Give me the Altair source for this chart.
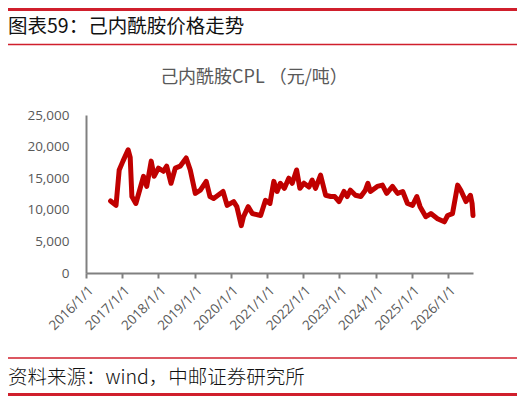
import altair as alt
import pandas as pd

dates = ["2016-09-05","2016-10-30","2016-12-01","2017-01-08","2017-03-01","2017-03-22","2017-04-08","2017-05-18",
         "2017-06-25","2017-08-03","2017-09-05","2017-10-20","2017-11-18","2018-01-01","2018-02-20","2018-03-25",
         "2018-05-08","2018-06-20","2018-08-08","2018-10-08","2018-11-18","2019-01-08","2019-02-28","2019-04-28",
         "2019-06-05","2019-07-12","2019-10-15","2019-11-25","2020-01-30","2020-03-02","2020-04-16","2020-05-08",
         "2020-06-25","2020-08-05","2020-10-28","2020-12-16","2021-01-30","2021-03-10","2021-04-12","2021-05-15",
         "2021-06-25","2021-08-08","2021-09-12","2021-10-26","2021-11-28","2022-01-08","2022-02-28","2022-04-01",
         "2022-05-05","2022-06-25","2022-08-15","2022-10-05","2022-11-15","2022-12-28","2023-02-17","2023-03-20",
         "2023-04-22","2023-06-12","2023-08-05","2023-09-20","2023-10-15","2023-11-10","2024-01-18","2024-03-10",
         "2024-04-22","2024-06-20","2024-08-10","2024-10-01","2024-11-18","2025-01-08","2025-02-20","2025-03-25",
         "2025-05-22","2025-07-12","2025-09-17","2025-11-25","2025-12-28","2026-02-15","2026-04-08","2026-05-10",
         "2026-07-01","2026-08-15","2026-09-01","2026-09-10"]
prices = [11400,10700,16300,17700,19500,18300,12100,11000,
          13100,15300,13700,17700,15300,16600,16100,16900,
          14200,16600,16900,18200,16300,12600,13100,14500,
          12100,11800,12900,10700,11300,10500,7500,8900,
          10500,9400,9100,11500,11000,14500,12900,14200,
          13400,15000,14200,16300,13400,14200,13600,14700,
          13400,15500,12300,12100,12100,11300,12900,12100,
          13100,12300,12100,13100,14200,12900,13700,13900,
          12600,13700,12600,12900,11000,10700,12100,10500,
          8900,9400,8600,8100,9100,9400,13900,13100,
          11300,12300,11000,9100]

tick_dates = ["2016-01-01","2017-01-01","2018-01-01","2019-01-01","2020-01-01","2021-01-01",
              "2022-01-01","2023-01-01","2024-01-01","2025-01-01","2026-01-01"]
y_ticks = [0, 5000, 10000, 15000, 20000, 25000]

fig_title = "图表59：己内酰胺价格走势"
chart_title = "己内酰胺CPL （元/吨）"
source = "资料来源：wind，中邮证券研究所"

df = pd.DataFrame({"date": pd.to_datetime(dates), "price": prices})

W, H = 387, 158
RED = "#D01F2C"
GREY = "#595959"
AX = "#808080"

x_enc = alt.X("date:T",
              scale=alt.Scale(domain=["2016-01-01", "2026-09-10"]),
              axis=alt.Axis(values=tick_dates, format="%Y/%-m/%-d", labelAngle=-45,
                            labelAlign="right", labelBaseline="top",
                            labelColor=GREY, labelFontSize=13.5, labelFont="Open Sans",
                            labelPadding=5, tickSize=5, tickColor=AX, tickWidth=2,
                            domainColor=AX, domainWidth=2, grid=False, title=None,
                            labelOverlap=False))
y_enc = alt.Y("price:Q",
              scale=alt.Scale(domain=[0, 25000]),
              axis=alt.Axis(values=y_ticks, format=",.0f", ticks=False, labelPadding=17,
                            labelColor=GREY, labelFontSize=13.5, labelFont="Open Sans",
                            domainColor=AX, domainWidth=2, grid=False, title=None))

line = alt.Chart(df).mark_line(color="#C00000", strokeWidth=5, strokeJoin="round",
                               strokeCap="round").encode(x=x_enc, y=y_enc)

txt = pd.DataFrame({"t": [fig_title]})
title_mark = alt.Chart(txt).mark_text(align="left", baseline="middle", fontSize=19.5,
                                      font="Noto Sans CJK SC", color="#111111").encode(
    x=alt.value(-78), y=alt.value(-88), text="t:N")

ct = pd.DataFrame({"t": [chart_title]})
ctitle_mark = alt.Chart(ct).mark_text(align="center", baseline="middle", fontSize=18,
                                      font="Noto Sans CJK SC", color=GREY).encode(
    x=alt.value(168), y=alt.value(-37), text="t:N")

st = pd.DataFrame({"t": [source]})
source_mark = alt.Chart(st).mark_text(align="left", baseline="middle", fontSize=19.5,
                                      font="Noto Sans CJK SC", fontWeight=300, color="#111111").encode(
    x=alt.value(-78), y=alt.value(263), text="t:N")

def hline(ypix, width):
    return alt.Chart(pd.DataFrame({"k": [0]})).mark_rule(color=RED, strokeWidth=width).encode(
        x=alt.value(-78), x2=alt.value(431), y=alt.value(ypix))

chart = alt.layer(
    hline(-105.5, 3), hline(-70.5, 1.5), hline(243, 1.5), hline(279.5, 3),
    title_mark, ctitle_mark, source_mark, line
).properties(
    width=W, height=H,
    autosize=alt.AutoSizeParams(type="none"),
    padding={"left": 78, "top": 107, "right": 44, "bottom": 123},
).configure_view(stroke=None)

chart.save("out.html", embed_options={"renderer": "svg", "actions": False})
